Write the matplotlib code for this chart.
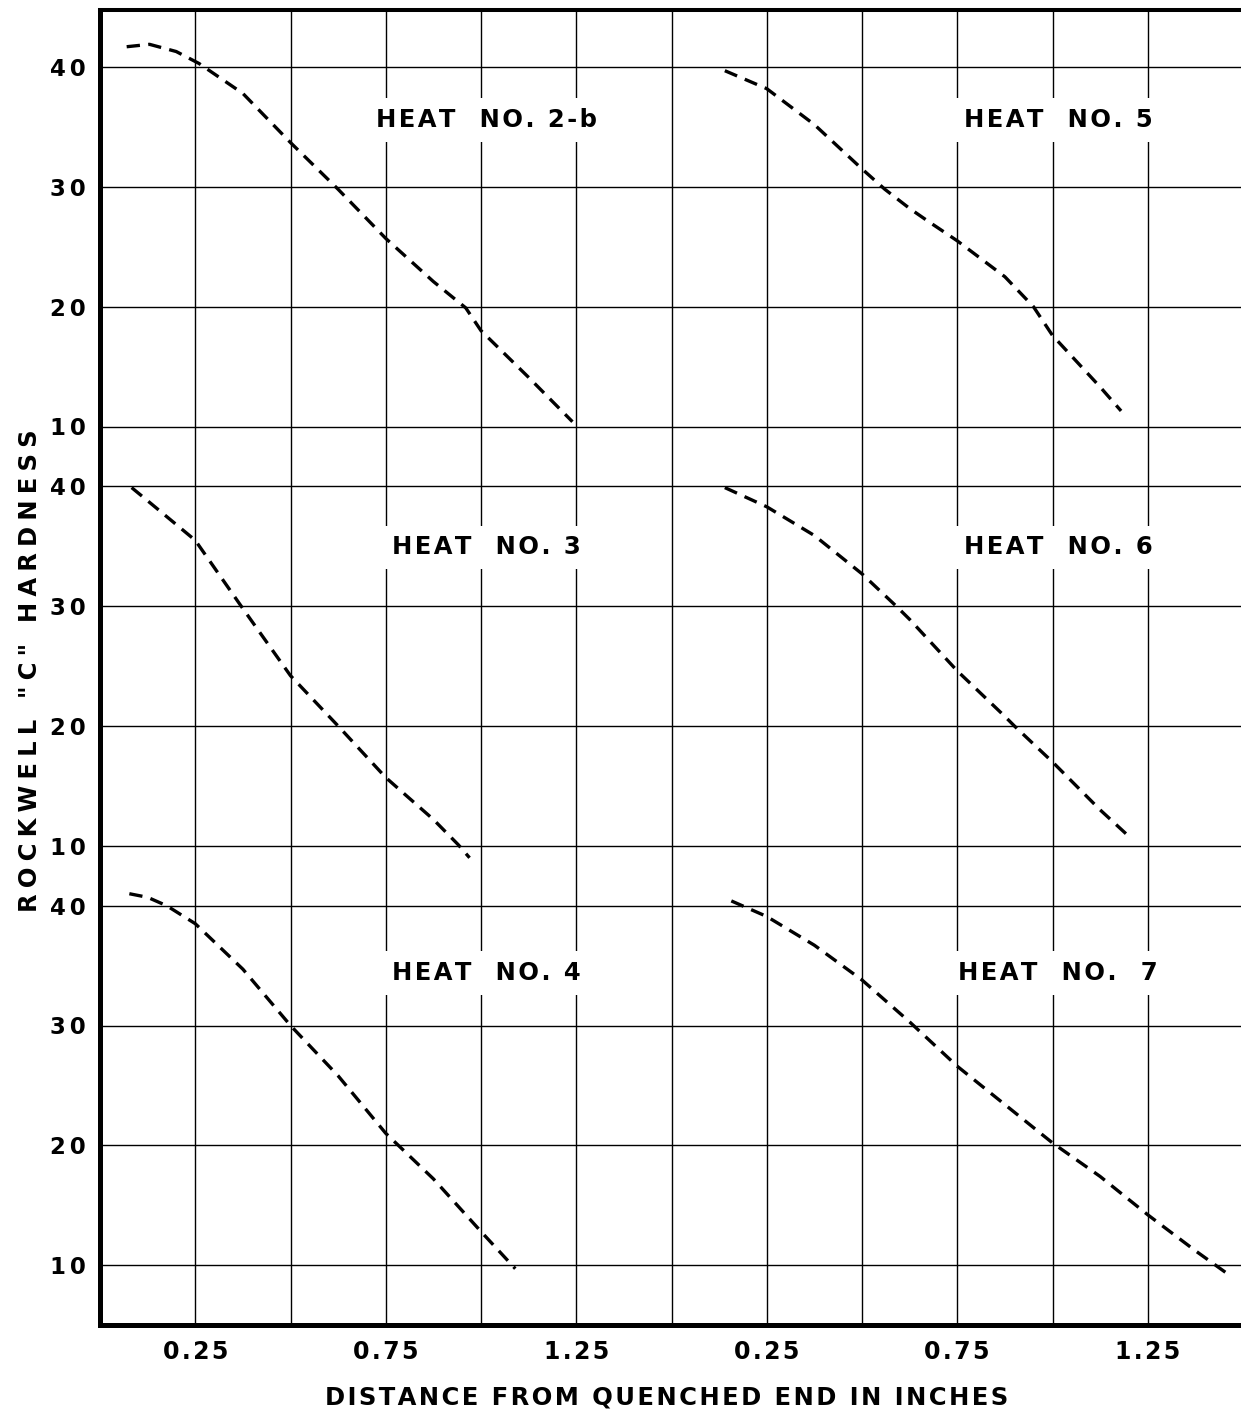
import matplotlib
matplotlib.use("Agg")
import matplotlib.pyplot as plt

# End-quench hardness traverses, Rockwell C against distance from the quenched end (in)
heat_2b_dist = [0.07, 0.13, 0.20, 0.26, 0.375, 0.50, 0.625, 0.75, 0.875, 0.96, 1.00, 1.125, 1.24]
heat_2b_hrc = [41.7, 41.9, 41.3, 40.3, 37.8, 33.7, 29.8, 25.7, 22.1, 19.9, 18.0, 14.1, 10.4]

heat_3_dist = [0.083, 0.125, 0.25, 0.375, 0.50, 0.625, 0.75, 0.875, 0.94, 0.97]
heat_3_hrc = [39.9, 38.8, 35.5, 29.8, 24.2, 20.0, 15.7, 12.2, 10.1, 9.0]

heat_4_dist = [0.077, 0.125, 0.175, 0.25, 0.375, 0.50, 0.625, 0.75, 0.875, 1.00, 1.09]
heat_4_hrc = [41.0, 40.7, 40.0, 38.5, 34.7, 30.0, 25.8, 21.0, 17.2, 12.8, 9.7]

heat_5_dist = [0.14, 0.25, 0.375, 0.50, 0.56, 0.625, 0.675, 0.75, 0.875, 0.95, 1.00, 1.125, 1.18]
heat_5_hrc = [39.7, 38.2, 35.2, 31.5, 29.8, 28.2, 27.1, 25.5, 22.5, 20.0, 17.6, 13.3, 11.3]

heat_6_dist = [0.14, 0.25, 0.375, 0.50, 0.59, 0.625, 0.75, 0.875, 0.90, 1.00, 1.125, 1.20]
heat_6_hrc = [39.9, 38.3, 35.9, 32.7, 30.0, 28.9, 24.6, 20.8, 20.0, 17.0, 13.0, 10.8]

heat_7_dist = [0.157, 0.25, 0.375, 0.50, 0.625, 0.75, 0.875, 1.00, 1.125, 1.25, 1.375, 1.467]
heat_7_hrc = [40.4, 39.1, 36.7, 33.8, 30.3, 26.6, 23.4, 20.2, 17.4, 14.2, 11.2, 9.1]

heat_names = ["2-b", "5", "3", "6", "4", " 7"]
hrc_ticks = [10, 20, 30, 40]
dist_ticks = [0.25, 0.75, 1.25]

# panels share one frame: two columns of 1.5 in, three rows stacked 35 HRC apart
PANEL_WIDTH = 1.5
ROW_STEP = 35
panels = [
    (heat_2b_dist, heat_2b_hrc, 0, 2),
    (heat_5_dist, heat_5_hrc, 1, 2),
    (heat_3_dist, heat_3_hrc, 0, 1),
    (heat_6_dist, heat_6_hrc, 1, 1),
    (heat_4_dist, heat_4_hrc, 0, 0),
    (heat_7_dist, heat_7_hrc, 1, 0),
]
label_y = {2: 35.6, 1: 34.9, 0: 34.4}

FONT = "DejaVu Sans"
HAIR = "\u200a"
SIXTH = "\u2006"
QUARTER = "\u2005"


def spaced(text, gap=HAIR):
    return gap.join(text)


fig = plt.figure(figsize=(12.41, 14.15), dpi=100)
W, H = 1241, 1415
ax = fig.add_axes([100 / W, 1 - 1325 / H, (W - 100) / W, (1325 - 10) / H])
ax.set_xlim(0, 1141 / 381)
ax.set_ylim(5, 5 + 1315 / 11.98)

for (dist, hrc, col, row), name in zip(panels, heat_names):
    gx = [d + col * PANEL_WIDTH for d in dist]
    gy = [v + row * ROW_STEP for v in hrc]
    ax.plot(gx, gy, color="black", lw=2.4, linestyle=(0, (4.0, 2.5)), zorder=3)
    ax.text(col * PANEL_WIDTH + 1.015, label_y[row] + row * ROW_STEP,
            spaced("HEAT  NO. " + name), fontsize=17.5, fontweight="bold",
            family=FONT, ha="center", va="center", zorder=4,
            bbox=dict(boxstyle="square,pad=0.4", facecolor="white", edgecolor="none"))

# grid every 0.25 in, labels only on the odd quarters
major_x = [t + c * PANEL_WIDTH for c in range(2) for t in dist_ticks]
minor_x = [0.5, 1.0, 1.5, 2.0, 2.5]
ax.set_xticks(major_x)
ax.set_xticklabels([spaced(f"{t:.2f}") for c in range(2) for t in dist_ticks])
ax.set_xticks(minor_x, minor=True)

yt = [v + r * ROW_STEP for r in range(3) for v in hrc_ticks]
ax.set_yticks(yt)
ax.set_yticklabels([spaced(str(v), SIXTH) for r in range(3) for v in hrc_ticks])

ax.grid(True, which="both", color="black", lw=1.0, zorder=1)
ax.tick_params(which="both", length=0)
ax.tick_params(axis="x", pad=11)
ax.tick_params(axis="y", pad=10)
for lab in ax.get_xticklabels():
    lab.set_fontsize(17)
    lab.set_fontweight("bold")
    lab.set_family(FONT)
for lab in ax.get_yticklabels():
    lab.set_fontsize(16.5)
    lab.set_fontweight("bold")
    lab.set_family(FONT)

ax.spines["right"].set_visible(False)
ax.spines["left"].set_linewidth(3.6)
ax.spines["bottom"].set_linewidth(3.6)
ax.spines["top"].set_linewidth(2.9)

fig.text(667 / W, 1 - 1398 / H, spaced("DISTANCE FROM QUENCHED END IN INCHES"),
         fontsize=17.5, fontweight="bold", family=FONT, ha="center", va="center")
fig.text(30 / W, 1 - 671 / H, spaced('ROCKWELL "C" HARDNESS', QUARTER),
         fontsize=17.5, fontweight="bold", family=FONT, rotation=90,
         ha="center", va="center")

fig.savefig("out.png", dpi=100)
